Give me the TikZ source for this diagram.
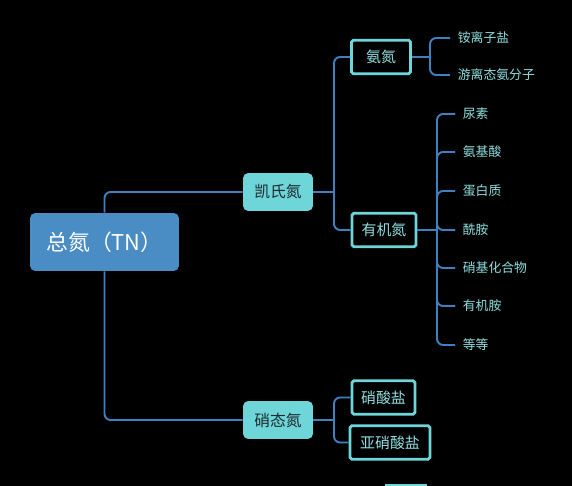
\documentclass[tikz,border=0pt]{standalone}
\usepackage{fontspec}
\setmainfont{Noto Sans CJK SC}
\usetikzlibrary{calc}
\definecolor{tnblue}{HTML}{4A8CC4}
\definecolor{tnline}{HTML}{3F80C0}
\definecolor{tncyan}{HTML}{6ED5D8}
\definecolor{tnleaf}{HTML}{8FDFE0}
\definecolor{tndark}{HTML}{1E2A30}
\tikzset{
    rootbox/.style={draw=none, fill=tnblue, rounded corners=3pt, text=white, font=\fontsize{12.4}{15}\selectfont, minimum width=2.98cm, minimum height=1.16cm, inner sep=0pt},
    mainbox/.style={draw=none, fill=tncyan, rounded corners=3pt, text=tndark, font=\fontsize{9}{11}\selectfont, minimum width=1.4cm, minimum height=0.76cm, inner sep=0pt},
    subbox/.style={draw=tncyan, line width=1.6pt, fill=black, rounded corners=1pt, text=tnleaf, font=\fontsize{8.5}{10}\selectfont, minimum height=0.67cm, inner sep=0pt},
    leaf/.style={anchor=west, text=tnleaf, font=\fontsize{7.3}{9}\selectfont, inner xsep=4.3pt, inner ysep=1.5pt},
    conn/.style={draw=tnline, line width=1.1pt, rounded corners=3.5pt}
}
\begin{document}
\begin{tikzpicture}[x=0.02cm, y=-0.02cm]
        \newcommand{\tnforkx}{334}
        \newcommand{\tnanforkx}{430}
        \newcommand{\tnorgforkx}{437}
        \newcommand{\tnanleafx}{450}
        \newcommand{\tnorgleafx}{455}
        \fill[black] (0,0) rectangle (572,486);
        \useasboundingbox (0,0) rectangle (572,486);
        % boxes
        \node[rootbox] (total) at (104.5,242) {总氮（TN）};
        \node[mainbox] (kjn) at (278,192) {凯氏氮};
        \node[mainbox] (nitrate) at (278,420) {硝态氮};
        \node[subbox, minimum width=1.18cm] (ammonia) at (381,57) {氨氮};
        \node[subbox, minimum width=1.28cm] (organic) at (384,230) {有机氮};
        \node[subbox, minimum width=1.26cm] (nitrat) at (383.5,397.5) {硝酸盐};
        \node[subbox, minimum width=1.6cm] (nitrit) at (390,442.5) {亚硝酸盐};
        % leaves
        \node[leaf] (ammsalt) at (\tnanleafx,38) {铵离子盐};
        \node[leaf] (freeamm) at (\tnanleafx,75) {游离态氨分子};
        \node[leaf] (urea) at (\tnorgleafx,114) {尿素};
        \node[leaf] (amino) at (\tnorgleafx,152) {氨基酸};
        \node[leaf] (protein) at (\tnorgleafx,191) {蛋白质};
        \node[leaf] (amide) at (\tnorgleafx,230) {酰胺};
        \node[leaf] (nitro) at (\tnorgleafx,268) {硝基化合物};
        \node[leaf] (amine) at (\tnorgleafx,306) {有机胺};
        \node[leaf] (etc) at (\tnorgleafx,345) {等等};
        % forks
        \coordinate (kjnfork) at (\tnforkx,192);
        \coordinate (nitfork) at (\tnforkx,420);
        \coordinate (ammfork) at (\tnanforkx,57);
        \coordinate (orgfork) at (\tnorgforkx,230);
        % connectors
        \draw[conn] (total.north) |- (kjn.west);
        \draw[conn] (total.south) |- (nitrate.west);
        \draw[conn] (kjn.east) -- (kjnfork);
        \draw[conn] (kjnfork) |- (ammonia.west);
        \draw[conn] (kjnfork) |- (organic.west);
        \draw[conn] (nitrate.east) -- (nitfork);
        \draw[conn] (nitfork) |- (nitrat.west);
        \draw[conn] (nitfork) |- (nitrit.west);
        \draw[conn] (ammonia.east) -- (ammfork);
        \draw[conn] (ammfork) |- (ammsalt.west);
        \draw[conn] (ammfork) |- (freeamm.west);
        \draw[conn] (organic.east) -- (orgfork);
        \foreach \tnleafname in {urea,amino,protein,amide,nitro,amine,etc}
            \draw[conn] (orgfork) |- (\tnleafname.west);
        % box cut off by the lower edge
        \begin{scope}
            \clip (0,0) rectangle (572,486);
            \draw[draw=tncyan, line width=1.6pt] (386,485) rectangle (426,510);
        \end{scope}
\end{tikzpicture}
\end{document}
